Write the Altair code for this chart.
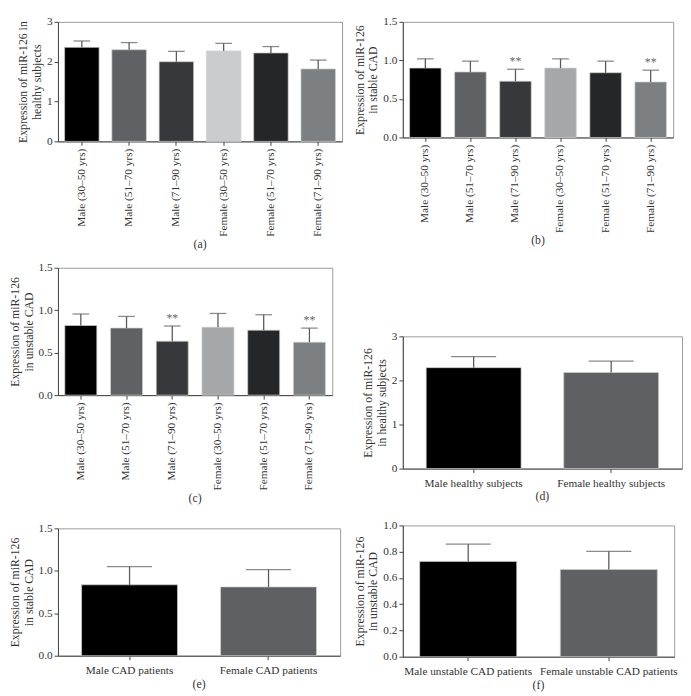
import altair as alt
import pandas as pd

FONT = "Liberation Serif"

cats6 = ["Male (30–50 yrs)", "Male (51–70 yrs)", "Male (71–90 yrs)",
         "Female (30–50 yrs)", "Female (51–70 yrs)", "Female (71–90 yrs)"]

a_mean = [2.36, 2.30, 2.00, 2.27, 2.22, 1.82]
a_upper = [2.52, 2.48, 2.26, 2.46, 2.38, 2.04]
a_stars = ["", "", "", "", "", ""]

b_mean = [0.90, 0.85, 0.73, 0.90, 0.84, 0.72]
b_upper = [1.02, 0.99, 0.885, 1.02, 0.99, 0.873]
b_stars = ["", "", "**", "", "", "**"]

c_mean = [0.82, 0.79, 0.635, 0.80, 0.765, 0.623]
c_upper = [0.955, 0.927, 0.814, 0.962, 0.947, 0.79]
c_stars = ["", "", "**", "", "", "**"]

d_cats = ["Male healthy subjects", "Female healthy subjects"]
d_mean = [2.29, 2.18]
d_upper = [2.54, 2.44]

e_cats = ["Male CAD patients", "Female CAD patients"]
e_mean = [0.835, 0.81]
e_upper = [1.05, 1.015]

f_cats = ["Male unstable CAD patients", "Female unstable CAD patients"]
f_mean = [0.726, 0.664]
f_upper = [0.858, 0.803]

colors_a = ["#000000", "#606164", "#37383b", "#cbcccd", "#252628", "#7d8083"]
colors_bc = ["#000000", "#606164", "#37383b", "#a5a7a9", "#252628", "#7d8083"]
colors_2 = ["#000000", "#5f6064"]


def panel(tag, cats, mean, upper, stars, colors, ymax, yvals, yfmt, ytitle,
          caption, w, h, rotated, pin, pout, cap):
    cf, mf, uf, sf = f"c_{tag}", f"m_{tag}", f"u_{tag}", f"s_{tag}"
    df = pd.DataFrame({cf: cats, mf: mean, uf: upper, sf: stars})
    xaxis = alt.Axis(
        title=None,
        labelAngle=270 if rotated else 0,
        labelAlign="right" if rotated else "center",
        labelBaseline="middle" if rotated else "top",
        labelFontSize=11.5,
        labelPadding=3 if rotated else 5,
        tickSize=4,
        labelLimit=300,
    )
    x = alt.X(f"{cf}:N", sort=cats,
              scale=alt.Scale(paddingInner=pin, paddingOuter=pout),
              axis=xaxis)
    yaxis = alt.Axis(values=yvals, format=yfmt, title=ytitle, tickSize=4,
                     labelPadding=2, titlePadding=3, titleAlign="center",
                     grid=False)
    ysc = alt.Scale(domain=[0, ymax], nice=False)
    base = alt.Chart(df)
    bars = base.mark_bar(stroke="#cfcfcf", strokeWidth=0.7).encode(
        x=x,
        y=alt.Y(f"{mf}:Q", scale=ysc, axis=yaxis),
        color=alt.Color(f"{cf}:N", scale=alt.Scale(domain=cats, range=colors),
                        legend=None),
    )
    rule = base.mark_rule(color="#5a5a5a", strokeWidth=1.3).encode(
        x=x,
        y=alt.Y(f"{mf}:Q", scale=ysc, axis=yaxis),
        y2=f"{uf}:Q",
    )
    tick = base.mark_tick(color="#5a5a5a", thickness=1.3, size=cap).encode(
        x=x,
        y=alt.Y(f"{uf}:Q", scale=ysc, axis=yaxis),
    )
    layers = [bars, rule, tick]
    if any(s for s in stars):
        txt = base.transform_filter(f"datum['{sf}'] != ''").mark_text(
            font=FONT, fontSize=12, color="#666", dy=-8, baseline="middle"
        ).encode(
            x=x,
            y=alt.Y(f"{uf}:Q", scale=ysc, axis=yaxis),
            text=f"{sf}:N",
        )
        layers.append(txt)
    return alt.layer(*layers).properties(
        width=w, height=h,
        title=alt.TitleParams(caption, orient="bottom", offset=3,
                              fontSize=12, font=FONT, fontWeight="normal",
                              color="#333"),
    )


def spacer(hgt):
    return alt.Chart(pd.DataFrame({"z": [0]})).mark_point(
        opacity=0, size=0
    ).encode(
        x=alt.value(0), y=alt.value(0)
    ).properties(width=1, height=hgt,
                 view=alt.ViewBackground(stroke="transparent"))


pa = panel("a", cats6, a_mean, a_upper, a_stars, colors_a, 3, [0, 1, 2, 3], "d",
           ["Expression of miR-126 in", "healthy subjects"], "(a)",
           290, 122, True, 0.27, 0.14, 17)
pb = panel("b", cats6, b_mean, b_upper, b_stars, colors_bc, 1.5,
           [0, 0.5, 1.0, 1.5], ".1f",
           ["Expression of miR-126", "in stable CAD"], "(b)",
           276, 118, True, 0.3, 0.15, 17)
pc = panel("c", cats6, c_mean, c_upper, c_stars, colors_bc, 1.5,
           [0, 0.5, 1.0, 1.5], ".1f",
           ["Expression of miR-126", "in unstable CAD"], "(c)",
           280, 130, True, 0.3, 0.15, 17)
pd_ = panel("d", d_cats, d_mean, d_upper, ["", ""], colors_2, 3,
            [0, 1, 2, 3], "d",
            ["Expression of miR-126", "in healthy subjects"], "(d)",
            285, 135, False, 0.31, 0.17, 46)
pe = panel("e", e_cats, e_mean, e_upper, ["", ""], colors_2, 1.5,
           [0, 0.5, 1.0, 1.5], ".1f",
           ["Expression of miR-126", "in stable CAD"], "(e)",
           288, 130, False, 0.31, 0.17, 46)
pf = panel("f", f_cats, f_mean, f_upper, ["", ""], colors_2, 1.0,
           [0, 0.2, 0.4, 0.6, 0.8, 1.0], ".1f",
           ["Expression of miR-126", "in unstable CAD"], "(f)",
           277, 134, False, 0.31, 0.12, 46)

left = alt.concat(pa, spacer(8), pc, spacer(15), pe,
                  columns=1, spacing=0, align="none").resolve_scale(color="independent")
right = alt.concat(pb, spacer(82), pd_, spacer(14), pf,
                   columns=1, spacing=0, align="none").resolve_scale(color="independent")

chart = alt.concat(left, right, columns=2, spacing=10, align="none").resolve_scale(
    color="independent"
).properties(
    padding=0
).configure_view(
    stroke="#9a9a9a", strokeWidth=1
).configure_axis(
    labelFont=FONT, titleFont=FONT, labelColor="#333", titleColor="#333",
    labelFontSize=11.5, titleFontSize=12, titleFontWeight="normal",
    domainColor="#444", tickColor="#444", domainWidth=1, tickWidth=1,
)

chart.save("out.html", embed_options={"renderer": "svg", "actions": False})
